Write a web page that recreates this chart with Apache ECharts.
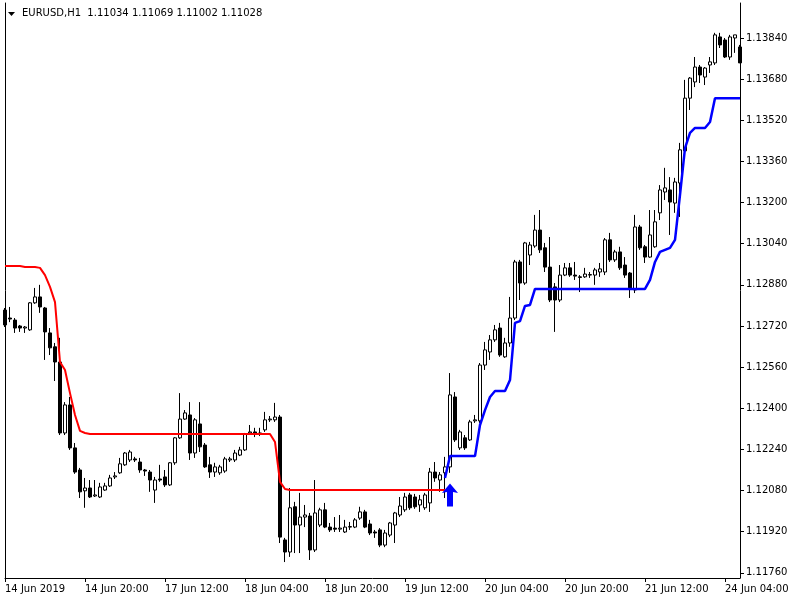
<!DOCTYPE html>
<html>
<head>
<meta charset="utf-8">
<script src="https://cdn.jsdelivr.net/npm/echarts@6/dist/echarts.min.js"></script>
<style>html,body{margin:0;padding:0;background:#fff}#c{width:800px;height:600px}</style>
</head>
<body>
<div id="c"></div>
<script>
// ---- data (EURUSD H1, bar 0 = 14 Jun 2019 04:00) ----
const opens = [1.12782,1.12751,1.12743,1.12720,1.12712,1.12705,1.12810,1.12833,1.12790,1.12693,
1.12639,1.12580,1.12304,1.12413,1.12246,1.12160,1.12079,1.12090,1.12059,1.12055,
1.12082,1.12098,1.12133,1.12149,1.12180,1.12199,1.12203,1.12191,1.12160,1.12152,
1.12082,1.12125,1.12133,1.12102,1.12188,1.12285,1.12358,1.12374,1.12226,1.12339,
1.12257,1.12180,1.12152,1.12149,1.12156,1.12199,1.12199,1.12218,1.12238,1.12304,
1.12308,1.12300,1.12316,1.12355,1.12355,1.12366,1.11888,1.11841,1.12017,1.11946,
1.11977,1.11981,1.11849,1.11946,1.12005,1.11938,1.11934,1.11930,1.11919,1.11938,
1.11938,1.11973,1.11997,1.11950,1.11919,1.11927,1.11868,1.11907,1.11946,1.11985,
1.12005,1.12063,1.12055,1.12024,1.12013,1.12032,1.12152,1.12121,1.12149,1.12172,
1.12444,1.12246,1.12285,1.12277,1.12351,1.12351,1.12568,1.12619,1.12666,1.12712,
1.12600,1.12654,1.12751,1.12969,1.12887,1.12996,1.13031,1.13093,1.13024,1.12949,
1.12872,1.12821,1.12918,1.12946,1.12918,1.12911,1.12911,1.12918,1.12918,1.12930,
1.12930,1.13055,1.12977,1.13008,1.12957,1.12926,1.12860,1.13105,1.13028,1.12988,
1.13028,1.13160,1.13241,1.13249,1.13198,1.13276,1.13401,1.13606,1.13669,1.13727,
1.13688,1.13735,1.13743,1.13844,1.13832,1.13766,1.13840,1.13805];
const highs = [1.12790,1.12794,1.12751,1.12724,1.12720,1.12813,1.12868,1.12880,1.12794,1.12712,
1.12654,1.12674,1.12424,1.12444,1.12265,1.12168,1.12129,1.12121,1.12121,1.12110,
1.12110,1.12141,1.12152,1.12207,1.12230,1.12238,1.12211,1.12207,1.12164,1.12160,
1.12133,1.12180,1.12160,1.12191,1.12288,1.12459,1.12393,1.12424,1.12362,1.12424,
1.12265,1.12211,1.12188,1.12180,1.12211,1.12211,1.12238,1.12250,1.12304,1.12335,
1.12324,1.12324,1.12386,1.12370,1.12421,1.12374,1.11896,1.12090,1.12036,1.12071,
1.12024,1.11993,1.12121,1.12013,1.12032,1.11954,1.11977,1.11985,1.11966,1.11958,
1.11973,1.12017,1.12005,1.11966,1.11927,1.11934,1.11927,1.11958,1.11997,1.12055,
1.12071,1.12071,1.12067,1.12063,1.12071,1.12168,1.12191,1.12152,1.12211,1.12537,
1.12463,1.12316,1.12296,1.12355,1.12374,1.12576,1.12658,1.12685,1.12724,1.12732,
1.12674,1.12833,1.12977,1.12977,1.13047,1.13047,1.13152,1.13171,1.13043,1.13066,
1.12887,1.12957,1.12965,1.12965,1.12969,1.12918,1.12946,1.12930,1.12946,1.12965,
1.13062,1.13082,1.13016,1.13028,1.12988,1.12930,1.13152,1.13113,1.13035,1.13171,
1.13171,1.13268,1.13335,1.13299,1.13296,1.13432,1.13677,1.13688,1.13766,1.13735,
1.13727,1.13766,1.13860,1.13860,1.13840,1.13852,1.13852,1.13813];
const lows = [1.12716,1.12735,1.12693,1.12697,1.12693,1.12701,1.12806,1.12771,1.12588,1.12607,
1.12506,1.12296,1.12296,1.12238,1.12145,1.12051,1.12013,1.12051,1.12055,1.12051,
1.12079,1.12094,1.12125,1.12145,1.12176,1.12191,1.12191,1.12149,1.12137,1.12075,
1.12032,1.12114,1.12094,1.12098,1.12180,1.12281,1.12355,1.12199,1.12207,1.12230,
1.12168,1.12129,1.12133,1.12141,1.12149,1.12191,1.12191,1.12214,1.12234,1.12296,
1.12288,1.12292,1.12308,1.12347,1.12347,1.11876,1.11802,1.11822,1.11837,1.11837,
1.11938,1.11810,1.11841,1.11938,1.11934,1.11919,1.11919,1.11919,1.11915,1.11927,
1.11934,1.11966,1.11934,1.11907,1.11896,1.11860,1.11860,1.11899,1.11876,1.11977,
1.11997,1.12005,1.12009,1.11997,1.12005,1.11997,1.12114,1.12075,1.12051,1.12149,
1.12269,1.12238,1.12238,1.12273,1.12343,1.12343,1.12549,1.12588,1.12658,1.12600,
1.12596,1.12639,1.12743,1.12821,1.12880,1.12957,1.13024,1.13004,1.12930,1.12813,
1.12697,1.12813,1.12914,1.12911,1.12899,1.12852,1.12907,1.12907,1.12880,1.12911,
1.12918,1.12969,1.12969,1.12938,1.12907,1.12829,1.12848,1.13016,1.12965,1.12985,
1.13024,1.13132,1.13210,1.13074,1.13160,1.13144,1.13393,1.13560,1.13649,1.13665,
1.13657,1.13704,1.13735,1.13801,1.13762,1.13755,1.13782,1.13743];
const closes = [1.12724,1.12747,1.12712,1.12712,1.12716,1.12810,1.12833,1.12794,1.12697,1.12635,
1.12580,1.12304,1.12413,1.12246,1.12152,1.12075,1.12090,1.12055,1.12063,1.12094,
1.12098,1.12129,1.12137,1.12184,1.12226,1.12230,1.12199,1.12160,1.12156,1.12121,
1.12121,1.12121,1.12102,1.12188,1.12285,1.12358,1.12382,1.12226,1.12355,1.12250,
1.12172,1.12152,1.12172,1.12172,1.12203,1.12203,1.12226,1.12238,1.12300,1.12308,
1.12300,1.12304,1.12355,1.12358,1.12366,1.11899,1.11841,1.12013,1.11946,1.11977,
1.11985,1.11849,1.11993,1.12005,1.11938,1.11927,1.11930,1.11934,1.11938,1.11940,
1.11966,1.11997,1.11938,1.11915,1.11915,1.11868,1.11915,1.11954,1.11993,1.12020,
1.12055,1.12013,1.12017,1.12044,1.12063,1.12152,1.12129,1.12141,1.12172,1.12452,
1.12277,1.12308,1.12246,1.12347,1.12355,1.12568,1.12627,1.12666,1.12705,1.12607,
1.12654,1.12751,1.12969,1.12887,1.13043,1.13035,1.13093,1.13016,1.12949,1.12821,
1.12821,1.12918,1.12946,1.12918,1.12914,1.12909,1.12922,1.12920,1.12938,1.12942,
1.13055,1.12977,1.13008,1.12946,1.12918,1.12868,1.13105,1.13024,1.12988,1.13074,
1.13125,1.13249,1.13257,1.13202,1.13280,1.13405,1.13606,1.13684,1.13727,1.13696,
1.13723,1.13747,1.13852,1.13813,1.13766,1.13844,1.13852,1.13743];

// trailing stop: red (down) for bars 0..88, blue (up) from bar 88
const redTrail = [1.12953,1.12953,1.12953,1.12953,1.12949,1.12949,1.12949,1.12946,1.12918,1.12872,
1.12813,1.12580,1.12549,1.12459,1.12374,1.12312,1.12304,1.12300,1.12300,1.12300,
1.12300,1.12300,1.12300,1.12300,1.12300,1.12300,1.12300,1.12300,1.12300,1.12300,
1.12300,1.12300,1.12300,1.12300,1.12300,1.12300,1.12300,1.12300,1.12300,1.12300,
1.12300,1.12300,1.12300,1.12300,1.12300,1.12300,1.12300,1.12300,1.12300,1.12300,
1.12300,1.12300,1.12300,1.12300,1.12269,1.12114,1.12086,1.12082,1.12082,1.12082,
1.12082,1.12082,1.12082,1.12082,1.12082,1.12082,1.12082,1.12082,1.12082,1.12082,
1.12082,1.12082,1.12082,1.12082,1.12082,1.12082,1.12082,1.12082,1.12082,1.12082,
1.12082,1.12082,1.12082,1.12082,1.12082,1.12082,1.12082,1.12082,1.12082];
const blueStart = 88;
const blueTrail = [1.12129,1.12214,1.12214,1.12214,1.12214,1.12214,1.12214,1.12335,1.12393,1.12444,
1.12467,1.12467,1.12467,1.12510,1.12732,1.12739,1.12798,1.12802,1.12864,1.12864,
1.12864,1.12864,1.12864,1.12864,1.12864,1.12864,1.12864,1.12864,1.12864,1.12864,
1.12864,1.12864,1.12864,1.12864,1.12864,1.12864,1.12864,1.12864,1.12864,1.12864,
1.12864,1.12899,1.12969,1.13008,1.13016,1.13024,1.13055,1.13230,1.13412,1.13471,
1.13490,1.13490,1.13490,1.13513,1.13606,1.13606,1.13606,1.13606,1.13606,1.13606];

const arrowIndex = 89;
const arrowPrice = 1.12063;

const yTicks = [1.11760,1.11920,1.12080,1.12240,1.12400,1.12560,1.12720,1.12880,1.13040,1.13200,1.13360,1.13520,1.13680,1.13840];
const xTickLabels = ['14 Jun 2019','14 Jun 20:00','17 Jun 12:00','18 Jun 04:00','18 Jun 20:00','19 Jun 12:00','20 Jun 04:00','20 Jun 20:00','21 Jun 12:00','24 Jun 04:00'];
const xTickStep = 16;
const headerText = 'EURUSD,H1  1.11034 1.11069 1.11002 1.11028';

// hourly trading-session categories
const sessions = [['14 Jun',4,23],['17 Jun',0,23],['18 Jun',0,23],['19 Jun',0,23],['20 Jun',0,23],['21 Jun',0,23],['24 Jun',0,7]];
const categories = [];
sessions.forEach(s => { for (let h = s[1]; h <= s[2]; h++) categories.push(s[0] + ' ' + String(h).padStart(2,'0') + ':00'); });

const candleData = opens.map((o, i) => [o, closes[i], lows[i], highs[i]]);
const redData = redTrail.map((v, i) => [i, v]);
const blueData = blueTrail.map((v, i) => [blueStart + i, v]);

const FONT = 'DejaVu Sans';
const chart = echarts.init(document.getElementById('c'), null, {renderer: 'canvas'});
chart.setOption({
  animation: false,
  backgroundColor: '#ffffff',
  textStyle: {fontFamily: FONT},
  grid: {left: 5, right: 60, top: 3, bottom: 22, containLabel: false},
  graphic: [
    {type: 'polygon', shape: {points: [[8, 12], [15, 12], [11.5, 16]]}, style: {fill: '#000'}},
    {type: 'text', left: 22, top: 8, style: {text: headerText, fill: '#000', font: '10px "DejaVu Sans"'}}
  ],
  xAxis: {
    type: 'category',
    data: categories,
    boundaryGap: false,
    axisLine: {show: true, lineStyle: {color: '#000', width: 1}},
    axisTick: {show: true, length: 4, interval: (i) => i % xTickStep === 0, lineStyle: {color: '#000'}},
    axisLabel: {
      interval: (i) => i % xTickStep === 0,
      formatter: (v, i) => xTickLabels[Math.round(i / xTickStep)] || '',
      align: 'left', color: '#000', fontSize: 10, fontFamily: FONT, margin: 6
    },
    splitLine: {show: false}
  },
  yAxis: [{
    type: 'value',
    position: 'right',
    min: 1.11740, max: 1.13976,
    axisLine: {show: true, lineStyle: {color: '#000', width: 1}},
    axisTick: {show: true, length: 4, inside: false, customValues: yTicks, lineStyle: {color: '#000'}},
    axisLabel: {customValues: yTicks, formatter: (v) => v.toFixed(5), color: '#000', fontSize: 10, fontFamily: FONT, margin: 6},
    splitLine: {show: false}
  }, {
    type: 'value',
    position: 'left',
    min: 1.11740, max: 1.13976,
    axisLine: {show: true, lineStyle: {color: '#000', width: 1}},
    axisTick: {show: false}, axisLabel: {show: false}, splitLine: {show: false}
  }],
  series: [
    {
      type: 'candlestick',
      data: candleData,
      barWidth: 3,
      itemStyle: {color: '#ffffff', color0: '#000000', borderColor: '#000000', borderColor0: '#000000', borderColorDoji: '#000000', borderWidth: 1},
      z: 2
    },
    {type: 'line', data: redData, showSymbol: false, symbol: 'none', lineStyle: {color: '#ff0000', width: 2}, z: 3},
    {type: 'line', data: blueData, showSymbol: false, symbol: 'none', lineStyle: {color: '#0000ff', width: 2.5}, z: 3},
    {
      type: 'scatter',
      data: [[arrowIndex, arrowPrice]],
      symbol: 'path://M8,0 L16,10 L11,9 L11,24 L5,24 L5,9 L0,10 Z',
      symbolSize: [16, 23],
      itemStyle: {color: '#0000ff', opacity: 1},
      z: 4
    }
  ]
});
</script>
</body>
</html>
